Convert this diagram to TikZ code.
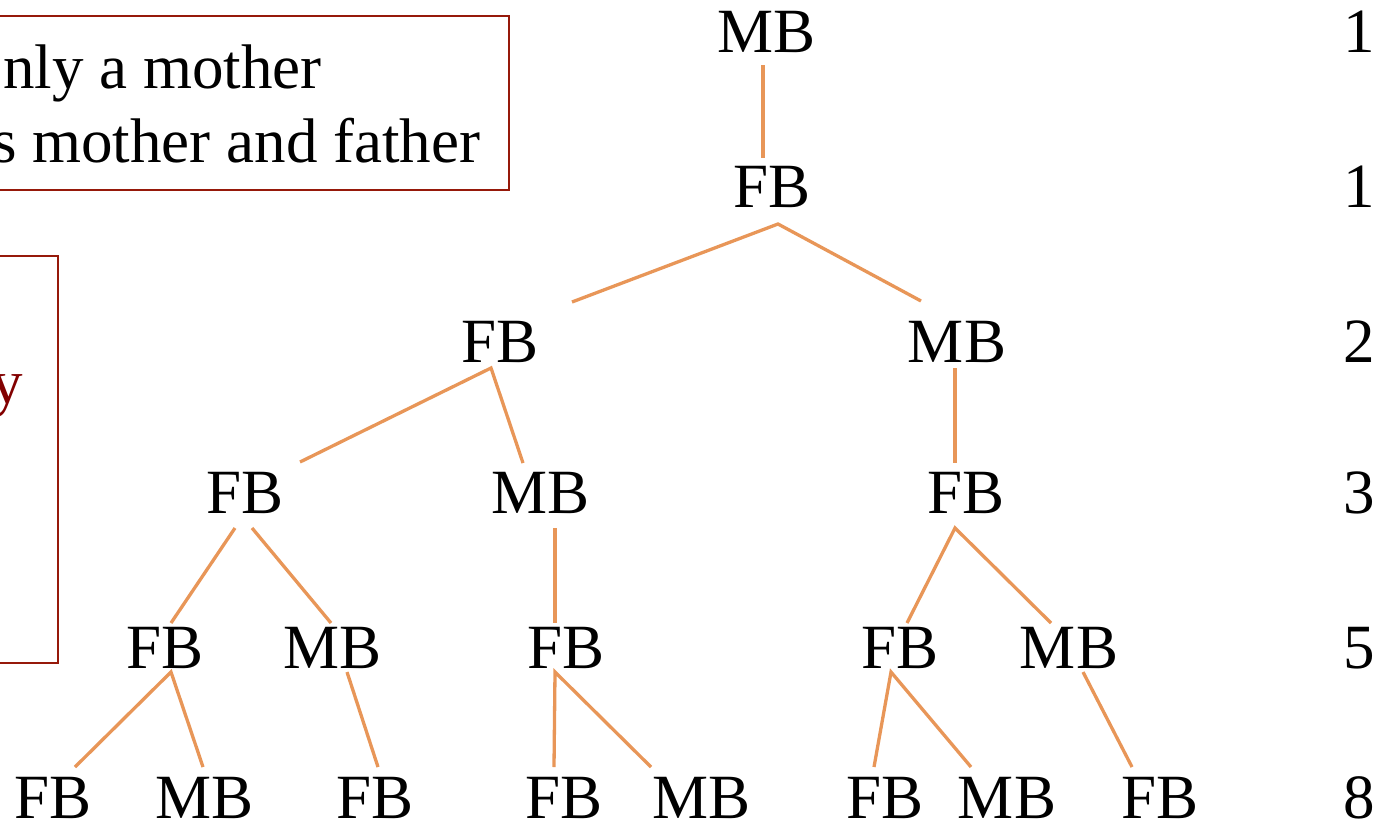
\documentclass[tikz,border=0pt]{standalone}
\usepackage{fontspec}
\setmainfont{Liberation Serif}
\definecolor{edgeorange}{RGB}{232,150,88}
\definecolor{boxred}{RGB}{150,25,10}
\definecolor{txtred}{RGB}{130,0,0}
\tikzset{
  lbl/.style={inner sep=0pt, anchor=base, font=\fontsize{63}{74}\selectfont},
  boxtxt/.style={inner sep=0pt, anchor=base west, font=\fontsize{63}{74}\selectfont},
  edge/.style={draw=edgeorange, line width=3.3pt},
  frame/.style={draw=boxred, line width=2pt}
}
\begin{document}
\begin{tikzpicture}[x=1pt,y=-1pt]
\useasboundingbox (0,0) rectangle (1388,825);
\clip (0,0) rectangle (1388,825);
% boxes (cut off at the left edge)
\draw[frame] (-20,16) rectangle (509,190);
\node[boxtxt] (t1) at (3,88) {nly a mother};
\node[boxtxt] (t2) at (-8,162) {s mother and father};
\draw[frame] (-20,256) rectangle (58,663);
\node[boxtxt, text=txtred] (t3) at (-9,403) {y};
% tree nodes
\node[lbl] (r1) at (767,52) {MB};
\node[lbl] (r2) at (772,207) {FB};
\node[lbl] (a3) at (500,362) {FB};
\node[lbl] (b3) at (957,362) {MB};
\node[lbl] (a4) at (245,513) {FB};
\node[lbl] (b4) at (541,513) {MB};
\node[lbl] (c4) at (966,513) {FB};
\node[lbl] (a5) at (165,668) {FB};
\node[lbl] (b5) at (333,668) {MB};
\node[lbl] (c5) at (566,668) {FB};
\node[lbl] (d5) at (900,668) {FB};
\node[lbl] (e5) at (1069,668) {MB};
\node[lbl] (a6) at (53,818) {FB};
\node[lbl] (b6) at (205,818) {MB};
\node[lbl] (c6) at (375,818) {FB};
\node[lbl] (d6) at (564,818) {FB};
\node[lbl] (e6) at (702,818) {MB};
\node[lbl] (f6) at (885,818) {FB};
\node[lbl] (g6) at (1007,818) {MB};
\node[lbl] (h6) at (1160,818) {FB};
% counts
\node[lbl] (n1) at (1359,52) {1};
\node[lbl] (n2) at (1359,207) {1};
\node[lbl] (n3) at (1359,362) {2};
\node[lbl] (n4) at (1359,513) {3};
\node[lbl] (n5) at (1359,668) {5};
\node[lbl] (n6) at (1359,818) {8};
% edges
\draw[edge] ([shift={(-4,13)}]r1.base) -- ([shift={(-9,-49)}]r2.base);
\draw[edge] ([shift={(72,-60)}]a3.base) -- ([shift={(6,17)}]r2.base) -- ([shift={(-36,-61)}]b3.base);
\draw[edge] ([shift={(55,-51)}]a4.base) -- ([shift={(-9,6)}]a3.base) -- ([shift={(-18,-50)}]b4.base);
\draw[edge] ([shift={(-2,6)}]b3.base) -- ([shift={(-11,-50)}]c4.base);
\draw[edge] ([shift={(-10,15)}]a4.base) -- ([shift={(6,-45)}]a5.base);
\draw[edge] ([shift={(7,15)}]a4.base) -- ([shift={(-2,-45)}]b5.base);
\draw[edge] ([shift={(14,15)}]b4.base) -- ([shift={(-11,-45)}]c5.base);
\draw[edge] ([shift={(7,-45)}]d5.base) -- ([shift={(-11,15)}]c4.base) -- ([shift={(-18,-45)}]e5.base);
\draw[edge] ([shift={(22,-51)}]a6.base) -- ([shift={(6,4)}]a5.base) -- ([shift={(-2,-51)}]b6.base);
\draw[edge] ([shift={(14,4)}]b5.base) -- ([shift={(3,-51)}]c6.base);
\draw[edge] ([shift={(-10,-51)}]d6.base) -- ([shift={(-11,4)}]c5.base) -- ([shift={(-51,-51)}]e6.base);
\draw[edge] ([shift={(-11,-51)}]f6.base) -- ([shift={(-9,4)}]d5.base) -- ([shift={(-36,-51)}]g6.base);
\draw[edge] ([shift={(14,4)}]e5.base) -- ([shift={(-28,-51)}]h6.base);
\end{tikzpicture}
\end{document}
